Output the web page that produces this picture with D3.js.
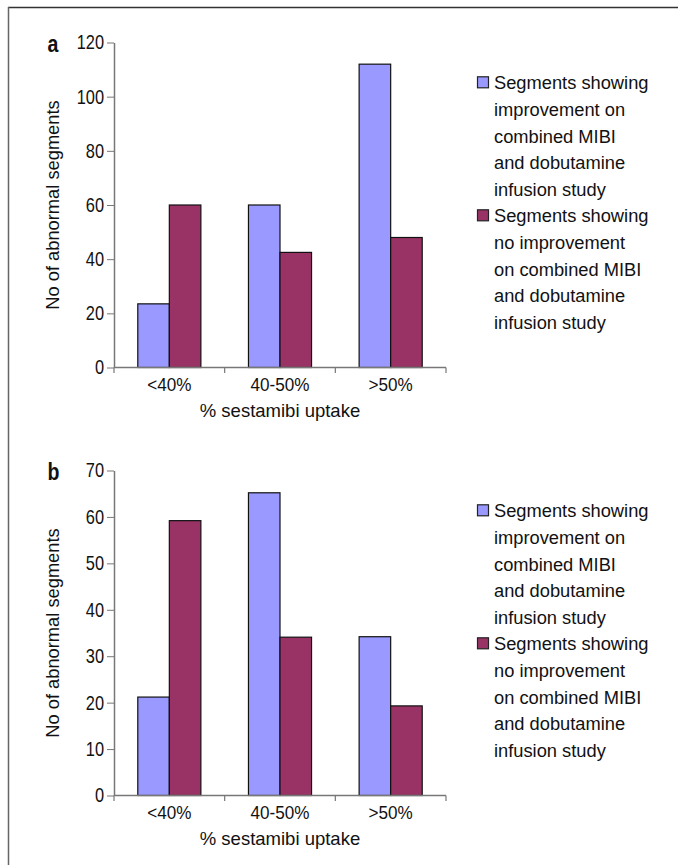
<!DOCTYPE html>
<html>
<head>
<meta charset="utf-8">
<script src="https://cdn.jsdelivr.net/npm/d3@7"></script>
<style>
  body { margin: 0; background: #fff; }
  text { font-family: "Liberation Sans", Arial, sans-serif; fill: #111; }
</style>
</head>
<body>
<div id="my_chart"></div>
<script>

// data
var categories = ["<40%", "40-50%", ">50%"];
var seriesNames = ["improved", "notImproved"];
var panelA_improved = [23.5, 60, 112];
var panelA_notImproved = [60, 42.5, 48];
var panelB_improved = [21.2, 65.2, 34.2];
var panelB_notImproved = [59.2, 34.1, 19.3];
var panelA_ticks = [0, 20, 40, 60, 80, 100, 120];
var panelB_ticks = [0, 10, 20, 30, 40, 50, 60, 70];
var legendLines = [
  ["Segments showing", "improvement on", "combined MIBI", "and dobutamine", "infusion study"],
  ["Segments showing", "no improvement", "on combined MIBI", "and dobutamine", "infusion study"]
];

var colors = { improved: "#9999ff", notImproved: "#993366" };

// setup params
var width_ = 678, height_ = 865;
var plot = { left: 114, right: 446, top: 42.5, height: 325 };
var panelOffset = 428;
var squeeze = 0.82;   // the original type is a condensed face

var svg = d3.select("#my_chart")
  .append("svg")
    .attr("width", width_)
    .attr("height", height_);

// frame (only top and left edges show)
svg.append("line")
  .attr("x1", 8).attr("x2", width_).attr("y1", 7.5).attr("y2", 7.5)
  .attr("stroke", "#333").attr("stroke-width", 1.5);
svg.append("line")
  .attr("x1", 8.5).attr("x2", 8.5).attr("y1", 7).attr("y2", height_)
  .attr("stroke", "#666").attr("stroke-width", 1.5);

function drawPanel(letter, improved, notImproved, ticks, offsetY) {

  var data = categories.map(function(c, i) {
    return { cat: c, improved: improved[i], notImproved: notImproved[i] };
  });

  var g = svg.append("g")
    .attr("transform", "translate(0," + offsetY + ")");

  var x0 = d3.scaleBand()
    .domain(categories)
    .range([plot.left, plot.right])
    .paddingInner(0.43)
    .paddingOuter(0.215);

  var x1 = d3.scaleBand()
    .domain(seriesNames)
    .range([0, x0.bandwidth()]);

  var y = d3.scaleLinear()
    .domain([0, d3.max(ticks)])
    .range([plot.top + plot.height, plot.top]);

  // Add Y axis
  var yAxis = g.append("g")
    .attr("transform", "translate(" + plot.left + ",0)")
    .call(d3.axisLeft(y).tickValues(ticks).tickSizeOuter(0).tickSizeInner(7).tickPadding(3));
  yAxis.select(".domain").attr("stroke", "#777").attr("stroke-width", 1.5);
  yAxis.selectAll(".tick line").attr("stroke", "#777");
  yAxis.selectAll(".tick text")
    .style("font-size", "20px")
    .attr("fill", "#111")
    .attr("x", -10 / squeeze)
    .attr("transform", "scale(" + squeeze + ",1)");

  // bars
  var groups = g.selectAll(".grp")
    .data(data)
    .enter()
    .append("g")
      .attr("class", "grp")
      .attr("transform", function(d) { return "translate(" + x0(d.cat) + ",0)"; });

  groups.selectAll("rect")
    .data(function(d) { return seriesNames.map(function(k) { return { key: k, value: d[k] }; }); })
    .enter()
    .append("rect")
      .attr("x", function(d) { return x1(d.key); })
      .attr("y", function(d) { return y(d.value); })
      .attr("width", x1.bandwidth())
      .attr("height", function(d) { return y(0) - y(d.value); })
      .attr("fill", function(d) { return colors[d.key]; })
      .attr("stroke", "#111")
      .attr("stroke-width", 1.2);

  // X axis line + ticks at category boundaries
  var step = x0.step();
  var bounds = d3.range(categories.length + 1).map(function(i) { return plot.left + i * step; });
  g.append("line")
    .attr("x1", plot.left).attr("x2", plot.right)
    .attr("y1", y(0)).attr("y2", y(0))
    .attr("stroke", "#777").attr("stroke-width", 1.5);
  g.selectAll(".xtick")
    .data(bounds)
    .enter()
    .append("line")
      .attr("class", "xtick")
      .attr("x1", function(d) { return d; }).attr("x2", function(d) { return d; })
      .attr("y1", y(0)).attr("y2", y(0) + 5.5)
      .attr("stroke", "#777").attr("stroke-width", 1.2);

  g.selectAll(".xlab")
    .data(categories)
    .enter()
    .append("text")
      .attr("class", "xlab")
      .attr("transform", function(d) {
        return "translate(" + (x0(d) + x0.bandwidth() / 2) + "," + (y(0) + 23) + ") scale(0.9,1)";
      })
      .attr("text-anchor", "middle")
      .style("font-size", "19px")
      .text(function(d) { return d; });

  g.append("text")
    .attr("x", (plot.left + plot.right) / 2)
    .attr("y", y(0) + 49)
    .attr("text-anchor", "middle")
    .style("font-size", "18.5px")
    .text("% sestamibi uptake");

  g.append("text")
    .attr("transform", "translate(59," + (plot.top + plot.height / 2) + ") rotate(-90)")
    .attr("text-anchor", "middle")
    .style("font-size", "18.3px")
    .text("No of abnormal segments");

  // panel letter
  g.append("text")
    .attr("transform", "translate(47.5,51.7) scale(0.85,1)")
    .style("font-size", "23px")
    .style("font-weight", "bold")
    .text(letter);

  // legend
  var lineH = 26.6, firstBase = 89.3;
  var leg = g.selectAll(".leg")
    .data(seriesNames)
    .enter()
    .append("g")
      .attr("class", "leg")
      .attr("transform", function(d, i) { return "translate(0," + (i * legendLines[0].length * lineH) + ")"; });

  leg.append("rect")
    .attr("x", 477.5)
    .attr("y", firstBase - 12.5)
    .attr("width", 11)
    .attr("height", 11)
    .attr("fill", function(d) { return colors[d]; })
    .attr("stroke", "#222")
    .attr("stroke-width", 1.2);

  leg.append("text")
    .style("font-size", "18.3px")
    .selectAll("tspan")
    .data(function(d, i) { return legendLines[i]; })
    .enter()
    .append("tspan")
      .attr("x", 494)
      .attr("y", function(d, j) { return firstBase + j * lineH; })
      .text(function(d) { return d; });
}

drawPanel("a", panelA_improved, panelA_notImproved, panelA_ticks, 0);
drawPanel("b", panelB_improved, panelB_notImproved, panelB_ticks, panelOffset);

</script>
</body>
</html>
